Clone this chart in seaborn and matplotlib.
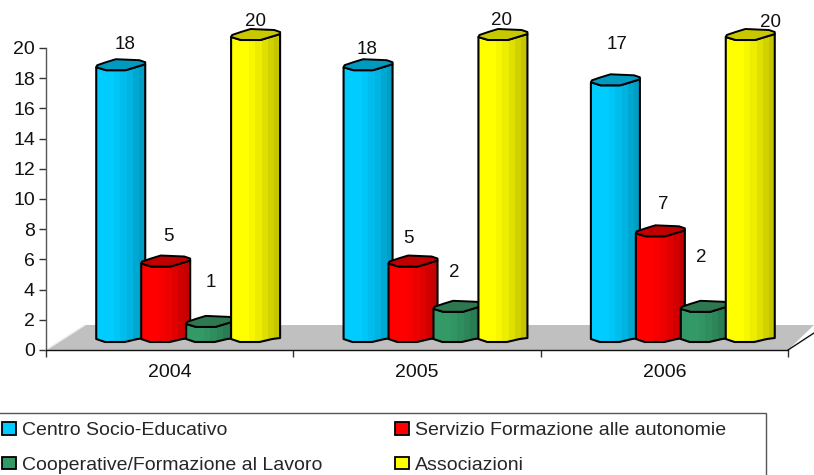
import numpy as np
import pandas as pd
import matplotlib
matplotlib.use("Agg")
import matplotlib.pyplot as plt
import seaborn as sns
from matplotlib.patches import Polygon, PathPatch, Rectangle
from matplotlib.path import Path
from matplotlib.transforms import Affine2D
from matplotlib.colors import to_rgb

years = ["2004", "2005", "2006"]
series = ["Centro Socio-Educativo", "Servizio Formazione alle autonomie",
          "Cooperative/Formazione al Lavoro", "Associazioni"]
centro = [18, 18, 17]
servizio = [5, 5, 7]
cooperative = [1, 2, 2]
associazioni = [20, 20, 20]
colors = ["#00CCFF", "#FF0000", "#339966", "#FFFF00"]
cap_colors = ["#0099C0", "#C00000", "#2E7850", "#C8C800"]
shade = [1, 1, 1, .97, .93, .88, .82, .77]
label_dx = [[4, -1, 2], [3, -5, 3], [0, -4, -4], [0, -1, 20]]
label_dy = [[26, 21, 41], [30, 28, 32], [44, 39, 54], [18, 19, 17]]

W, H = 814, 475
sns.set_style("white")
plt.rcParams["font.family"] = ["Liberation Sans", "DejaVu Sans"]
fig = plt.figure(figsize=(W / 100, H / 100), dpi=100, facecolor="white")
ax = fig.add_axes([46 / W, 1 - 350 / H, (788 - 46) / W, (350 - 48) / H])
PX = Affine2D().scale(1, -1).translate(0, H)  # reference pixels -> display

df = pd.DataFrame({"year": years * 4,
                   "series": np.repeat(series, 3),
                   "value": centro + servizio + cooperative + associazioni})
sns.barplot(data=df, x="year", y="value", hue="series", order=years, hue_order=series,
            palette=colors, width=0.727, gap=0, errorbar=None, saturation=1,
            legend=True, ax=ax)
ax.set_xlim(-0.5, 2.5)
ax.set_ylim(0, 20)
ax.set_xlabel("")
ax.set_ylabel("")
handles, labels = ax.get_legend_handles_labels()
ax.get_legend().remove()

# tick / spine styling
for s in ["top", "right"]:
    ax.spines[s].set_visible(False)
ax.spines["left"].set_color("#555555")
ax.spines["bottom"].set_color("#111111")
ax.spines["left"].set_linewidth(1)
ax.spines["bottom"].set_linewidth(1)
ax.set_yticks(range(0, 21, 2))
ax.set_xticks([-0.5, 0.5, 1.5, 2.5], labels=[], minor=False)
ax.set_xticks([0, 1, 2], labels=years, minor=True)
ax.tick_params(axis="x", which="major", length=5, width=1, color="#333333", bottom=True)
ax.tick_params(axis="x", which="minor", length=0, labelsize=14, pad=10, colors="#111111", bottom=True)
ax.tick_params(axis="y", length=5, width=1, color="#333333", labelsize=14, pad=3, labelcolor="#111111", left=True)

# floor
floor = Polygon([(46, 350), (85, 325), (814, 325), (788, 350)], closed=True, transform=PX,
                facecolor="#C0C0C0", edgecolor="none", zorder=1, clip_on=False)
ax.add_patch(floor)
ax.add_line(plt.Line2D([788, 814], [350, 333], transform=PX, color="#111111", lw=1, zorder=1.5, clip_on=False))
ax.add_line(plt.Line2D([46, 85], [350, 325], transform=PX, color="#EEEEEE", lw=1, zorder=1.5, clip_on=False))

# 3D-look cylinders built on the seaborn bars
x_scale = (788 - 46) / 3
y_scale = (350 - 48) / 20
bar_px = 49
lift = 8 / y_scale
fig.canvas.draw()
for i, cont in enumerate(ax.containers):
    z = 2 + i
    for j, p in enumerate(cont.patches):
        cx = p.get_x() + p.get_width() / 2 + 18.5 / x_scale
        p.set_width(bar_px / x_scale)
        p.set_x(cx - bar_px / x_scale / 2)
        p.set_y(lift)
        p.set_edgecolor("none")
        p.set_zorder(z)
        bb = p.get_window_extent()
        x0, w = bb.x0, bb.width
        yb = H - bb.y0
        yt = H - bb.y1
        top_front = [(0, 3), (.2, 0), (.6, 0), (1, 6)]
        back = [(1, 8), (.88, 10), (.4, 11), (.2, 8), (.02, 5)]
        bottom = [(0, 3), (.18, 0), (.58, 0), (.84, 3), (1, 4)]
        body = [(x0 + u * w, yb - v) for u, v in bottom] + \
               [(x0 + u * w, yt - v) for u, v in reversed(top_front)]
        cap = [(x0 + u * w, yt - v) for u, v in top_front + back]
        body_patch = Polygon(body, closed=True, transform=PX, facecolor="none", clip_on=False,
                             edgecolor="black", lw=1.5, joinstyle="round", zorder=z + .3)
        ax.add_patch(body_patch)
        clip = PathPatch(Path(body + [body[0]]), transform=PX, facecolor="none", edgecolor="none")
        ax.add_patch(clip)
        p.set_clip_path(clip)
        p.set_clip_box(fig.bbox)
        rgb = np.array(to_rgb(colors[i]))
        grad = np.array([[rgb * s for s in shade]])
        im = ax.imshow(grad, aspect="auto", interpolation="nearest",
                       extent=(x0, x0 + w, yb, yt - 12), transform=PX, zorder=z + .1)
        im.set_clip_path(clip)
        im.set_clip_box(fig.bbox)
        ax.add_patch(Polygon(cap, closed=True, transform=PX, facecolor=cap_colors[i], clip_on=False,
                             edgecolor="black", lw=1.4, joinstyle="round", zorder=z + .4))
        ax.text(x0 + w / 2 + label_dx[i][j], yt - label_dy[i][j], f"{p.get_height():.0f}",
                transform=PX, ha="center", va="center", fontsize=13.5, color="#111111",
                zorder=10, clip_on=False)
ax.set_xlim(-0.5, 2.5)
ax.set_ylim(0, 20)

# legend
fig.add_artist(Rectangle((-2, 413), 768, 80, transform=PX, facecolor="white",
                         edgecolor="#555555", lw=1))
order = [0, 2, 1, 3]
leg = fig.legend([handles[k] for k in order], [labels[k] for k in order], ncol=2,
                 loc="upper left", bbox_to_anchor=(0 / W, 1 - 420 / H), frameon=False,
                 fontsize=14, handlelength=0.72, handleheight=0.62, handletextpad=0.31,
                 columnspacing=3.75, labelspacing=0.9, borderpad=0.1, borderaxespad=0)
for h in leg.legend_handles:
    h.set_edgecolor("black")
    h.set_linewidth(1.3)
fig.savefig("out.png", dpi=100, facecolor="white")
